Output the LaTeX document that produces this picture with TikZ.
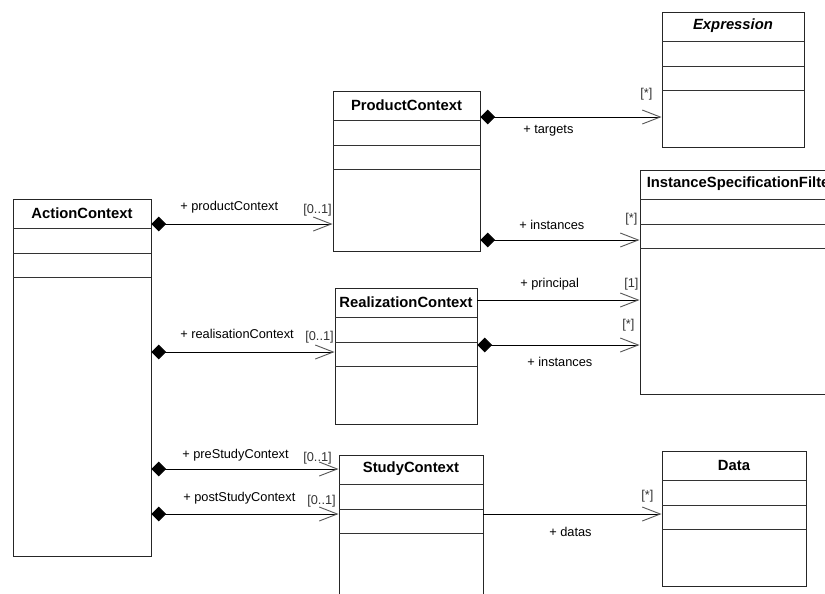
\documentclass[tikz,border=0pt]{standalone}
\usepackage{fontspec}
\setmainfont{Liberation Sans}
\usetikzlibrary{arrows.meta,calc,fit}
\tikzset{
  classbox/.style={draw=black!85, line width=0.7pt, inner sep=0pt},
  classname/.style={font=\fontsize{11.1}{13}\selectfont\bfseries, inner sep=0pt},
  sep/.style={line width=0.6pt, black!80},
  role/.style={font=\fontsize{9.6}{11}\selectfont, inner sep=0pt, anchor=west},
  mult/.style={role, text=black!80},
  comp/.style={line width=0.7pt, {Diamond[length=11pt,width=11pt]}-{Straight Barb[length=13.5pt,width=10.5pt,color=black!65]}},
  assoc/.style={line width=0.7pt, -{Straight Barb[length=13.5pt,width=10.5pt,color=black!65]}},
}
\newcommand{\umlclass}[6]{%
  \node[classbox, fit={(#3,#4) (#5,#6)}] (#1) {};
  \node[classname] (#1-name) at ($(#1.north)+(0,14.5)$) {#2};
  \foreach \d in {29,54,78} \draw[sep] (#3,#4+\d) -- (#5,#4+\d);
}

\begin{document}
\begin{tikzpicture}[x=0.75pt,y=-0.75pt]
  \useasboundingbox (0,0) rectangle (825,593);
  \clip (0,0) rectangle (825,593);
  % classes
  \umlclass{action}{ActionContext}{13}{199}{151}{556}
  \umlclass{product}{ProductContext}{333}{91}{480}{251}
  \umlclass{expr}{\itshape Expression}{662}{12}{804}{147}
  \umlclass{isf}{InstanceSpecificationFilter}{640}{170}{842}{394}
  \umlclass{real}{RealizationContext}{335}{288}{477}{424}
  \umlclass{study}{StudyContext}{339}{455}{483}{610}
  \umlclass{data}{Data}{662}{451}{806}{586}
  % levels of the connectors
  \coordinate (y-pc) at (0,224);
  \coordinate (y-tg) at (0,117);
  \coordinate (y-pi) at (0,240);
  \coordinate (y-pr) at (0,300);
  \coordinate (y-ri) at (0,345);
  \coordinate (y-rc) at (0,352);
  \coordinate (y-pre) at (0,469);
  \coordinate (y-post) at (0,514);
  % associations
  \draw[comp] (action.east |- y-pc) -- (product.west |- y-pc);
  \draw[comp] (product.east |- y-tg) -- (expr.west |- y-tg);
  \draw[comp] (product.east |- y-pi) -- (isf.west |- y-pi);
  \draw[assoc] (real.east |- y-pr) -- (isf.west |- y-pr);
  \draw[comp] (real.east |- y-ri) -- (isf.west |- y-ri);
  \draw[comp] (action.east |- y-rc) -- (real.west |- y-rc);
  \draw[comp] (action.east |- y-pre) -- (study.west |- y-pre);
  \draw[comp] (action.east |- y-post) -- (study.west |- y-post);
  \draw[assoc] (study.east |- y-post) -- (data.west |- y-post);
  % roles and multiplicities
  \node[role] (l-pc) at (180,207) {+ productContext};
  \node[mult] (m-pc) at (303,210) {[0..1]};
  \node[role] (l-tg) at (523,131) {+ targets};
  \node[mult] (m-tg) at (640,94) {[*]};
  \node[role] (l-pi) at (519,225) {+ instances};
  \node[mult] (m-pi) at (625,219) {[*]};
  \node[role] (l-pr) at (520,284) {+ principal};
  \node[mult] (m-pr) at (624,284) {[1]};
  \node[mult] (m-ri) at (622,325) {[*]};
  \node[role] (l-ri) at (527,362) {+ instances};
  \node[role] (l-rc) at (180,334) {+ realisationContext};
  \node[mult] (m-rc) at (305,337) {[0..1]};
  \node[role] (l-pre) at (182,455) {+ preStudyContext};
  \node[mult] (m-pre) at (303,458) {[0..1]};
  \node[role] (l-post) at (183,498) {+ postStudyContext};
  \node[mult] (m-post) at (307,501) {[0..1]};
  \node[role] (l-ds) at (549,532) {+ datas};
  \node[mult] (m-ds) at (641,496) {[*]};
\end{tikzpicture}
\end{document}
